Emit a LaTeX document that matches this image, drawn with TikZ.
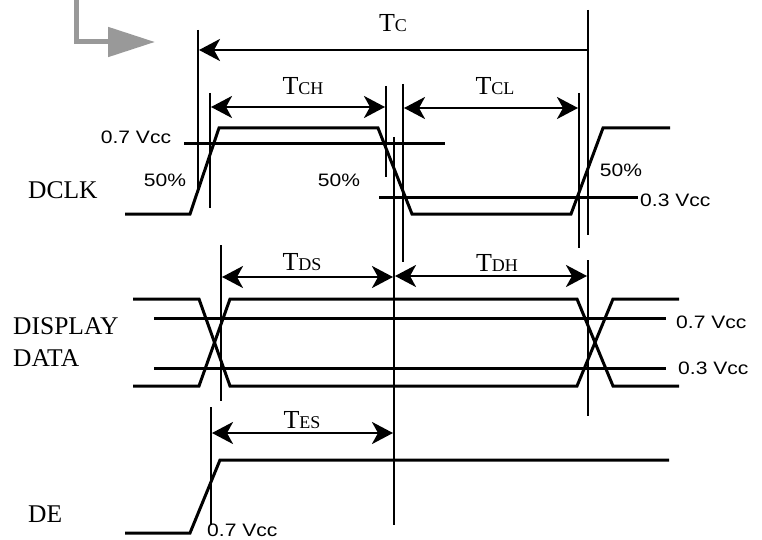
\documentclass[tikz,border=0pt]{standalone}
\usepackage{fontspec}
\usetikzlibrary{arrows.meta}
\setmainfont{Liberation Serif}
\newfontfamily\voltfont[FakeStretch=1.17]{Liberation Sans}
\newcommand{\tsub}[1]{T{\fontsize{18}{18}\selectfont #1}}
\tikzset{
  sig/.style={line width=3pt},
  thinmk/.style={line width=1.5pt},
  thickmk/.style={line width=2.8pt},
  dim/.style={line width=2.6pt, {Stealth[length=21pt,width=22pt,inset=6pt]}-{Stealth[length=21pt,width=22pt,inset=6pt]}},
  volt/.style={font=\voltfont\fontsize{18}{18}\selectfont, inner sep=0pt},
  signame/.style={font=\fontsize{25.5}{26}\selectfont, inner sep=0pt, anchor=west},
  tlab/.style={font=\fontsize{26}{26}\selectfont, inner sep=0pt}
}

\begin{document}
\begin{tikzpicture}[x=1pt, y=-1pt]
    \useasboundingbox (0,0) rectangle (762,540);
    % grey pointer
    \draw [line width=5pt, color=black!40, -{Triangle[length=47pt,width=29pt]}] (76,-3) |- (155,42);

    % time markers
    \draw [thickmk] (198,30) -- (198,188);
    \draw [thinmk] (210,93) -- (210,208);
    \draw [thickmk] (386,86) -- (386,177);
    \draw [thinmk] (394,137) -- (394,525);
    \draw [thinmk, line width=1.8pt] (403,84) -- (403,262);
    \draw [thickmk] (579,93) -- (579,248);
    \draw [thickmk] (588,10) -- (588,235);
    \draw [thinmk] (221,245) -- (221,401);
    \draw [thickmk] (588,260) -- (588,416);
    \draw [thinmk] (211,407) -- (211,525);

    % dimension arrows
    \draw [line width=2.8pt, {Stealth[length=21pt,width=22pt,inset=6pt]}-] (199,50) -- (587,50);
    \node [tlab] (tc) at (393,23) {\tsub{C}};
    \draw [dim] (211,107) -- (385,107);
    \node [tlab] (tch) at (303,86) {\tsub{CH}};
    \draw [dim] (404,108) -- (578,108);
    \node [tlab] (tcl) at (495,86) {\tsub{CL}};
    \draw [dim] (222,277) -- (393,277);
    \node [tlab] (tds) at (302,262) {\tsub{DS}};
    \draw [dim] (395,276) -- (587,276);
    \node [tlab] (tdh) at (497,263) {\tsub{DH}};
    \draw [dim] (212,433) -- (393,433);
    \node [tlab] (tes) at (302,420) {\tsub{ES}};

    % DCLK
    \draw [sig] (125,214) -- (190,214) -- (219,128) -- (378,128) -- (412,214) -- (571,214) -- (603,128) -- (670,128);
    \draw [sig] (184,144) -- (445,144);
    \draw [sig] (379,197) -- (638,197);
    \node [volt] (clkhi) at (136,137) {0.7 Vcc};
    \node [volt, anchor=west] (clklo) at (640,200) {0.3 Vcc};
    \node [volt] (pa) at (165,180) {50\%};
    \node [volt] (pb) at (339,180) {50\%};
    \node [volt] (pc) at (621,170) {50\%};
    \node [signame] (dclk) at (28,190) {DCLK};

    % DISPLAY DATA
    \draw [sig] (133,299) -- (199,299) -- (230,386) -- (577,386) -- (613,299) -- (679,299);
    \draw [sig] (133,386) -- (199,386) -- (230,299) -- (577,299) -- (613,386) -- (679,386);
    \draw [sig] (154,318) -- (666,318);
    \draw [sig] (154,368) -- (666,368);
    \node [volt, anchor=west] (dhi) at (676,322) {0.7 Vcc};
    \node [volt, anchor=west] (dlo) at (678,368) {0.3 Vcc};
    \node [signame] (disp) at (13,326) {DISPLAY};
    \node [signame] (data) at (13,358) {DATA};

    % DE
    \draw [sig] (125,533) -- (190,533) -- (220,460) -- (669,460);
    \node [volt, anchor=west] (dehi) at (207,530) {0.7 Vcc};
    \node [signame] (de) at (28,514) {DE};
\end{tikzpicture}
\end{document}
